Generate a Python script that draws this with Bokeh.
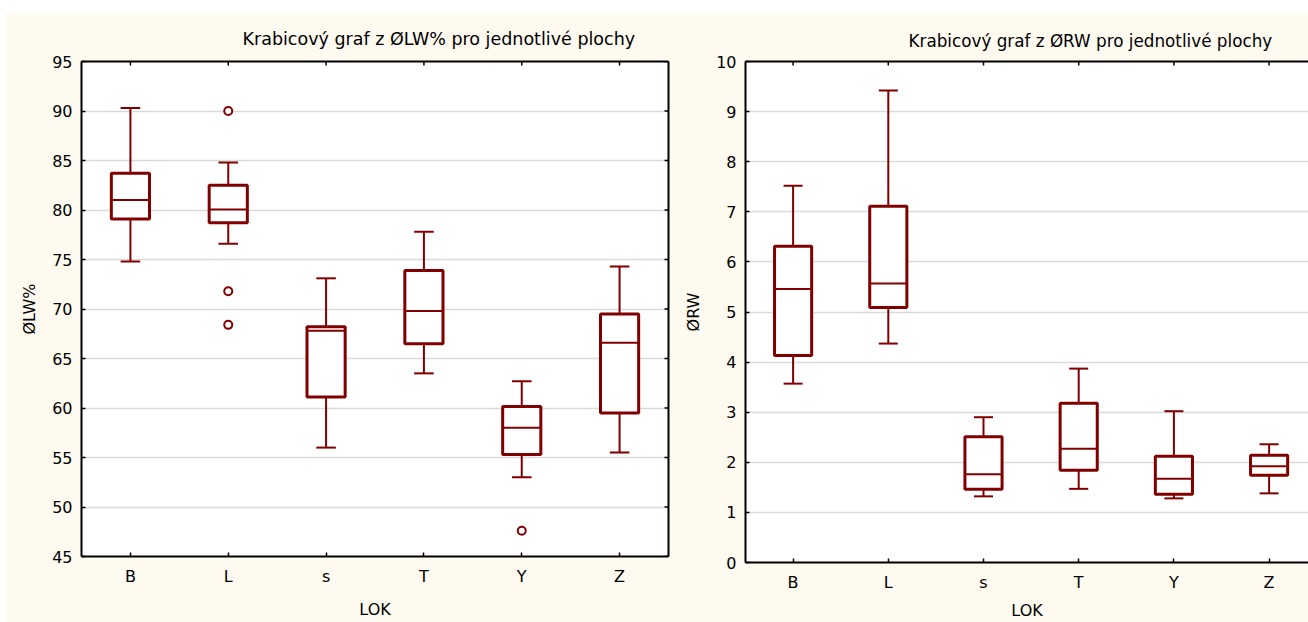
import math
from bokeh.plotting import figure
from bokeh.layouts import row, column
from bokeh.models import Range1d, LinearAxis, FixedTicker, Spacer
from bokeh.embed import file_html
from bokeh.resources import INLINE

categories = ["B", "L", "s", "T", "Y", "Z"]

# Left panel: ØLW%
lw_whisk_low = [74.8, 76.6, 56.0, 63.5, 53.0, 55.5]
lw_q1 = [79.1, 78.7, 61.1, 66.5, 55.3, 59.5]
lw_median = [81.0, 80.05, 67.8, 69.8, 58.0, 66.6]
lw_q3 = [83.7, 82.5, 68.2, 73.9, 60.15, 69.5]
lw_whisk_high = [90.3, 84.8, 73.1, 77.8, 62.7, 74.3]
lw_outlier_cat = ["L", "L", "L", "Y"]
lw_outlier_val = [90.0, 71.8, 68.4, 47.6]
lw_ticks = [45, 50, 55, 60, 65, 70, 75, 80, 85, 90, 95]

# Right panel: ØRW
rw_whisk_low = [3.57, 4.37, 1.32, 1.47, 1.28, 1.38]
rw_q1 = [4.13, 5.09, 1.46, 1.84, 1.36, 1.74]
rw_median = [5.46, 5.57, 1.76, 2.27, 1.67, 1.92]
rw_q3 = [6.31, 7.11, 2.51, 3.18, 2.12, 2.14]
rw_whisk_high = [7.52, 9.42, 2.90, 3.87, 3.02, 2.36]
rw_outlier_cat = []
rw_outlier_val = []
rw_ticks = [0, 1, 2, 3, 4, 5, 6, 7, 8, 9, 10]

title_left = "Krabicový graf z ØLW% pro jednotlivé plochy"
title_right = "Krabicový graf z ØRW pro jednotlivé plochy"
ylabel_left = "ØLW%"
ylabel_right = "ØRW"
xlabel = "LOK"

CREAM = "#FEFAF0"
RED = "#800000"
FONT = "DejaVu Sans"

xpos = [i + 0.5 for i in range(len(categories))]
cat_pos = dict(zip(categories, xpos))


def style_axis(ax):
    ax.axis_line_width = 2
    ax.axis_line_color = "black"
    ax.major_tick_in = 4
    ax.major_tick_out = 0
    ax.major_tick_line_color = "black"
    ax.major_tick_line_width = 1.5
    ax.minor_tick_line_color = None
    ax.major_label_text_font = FONT
    ax.major_label_text_font_size = "16px"
    ax.major_label_text_color = "black"
    ax.axis_label_text_font = FONT
    ax.axis_label_text_font_size = "16px"
    ax.axis_label_text_font_style = "normal"
    ax.axis_label_text_color = "black"


def make_panel(width, height, xend, yr, yticks, title, ylabel,
               wl, q1, med, q3, wh, ocat, oval,
               bl, br, bt, bb, title_offset, title_standoff, title_size,
               add_right, xlab_standoff):
    p = figure(width=width, height=height, x_range=Range1d(0, xend),
               y_range=Range1d(*yr), output_backend="svg",
               toolbar_location=None, min_border_left=bl, min_border_right=br,
               min_border_top=bt, min_border_bottom=bb,
               background_fill_color="white", border_fill_color=CREAM,
               outline_line_color=None, title=title)
    p.title.text_font = FONT
    p.title.text_font_size = title_size
    p.title.text_font_style = "normal"
    p.title.text_color = "black"
    p.title.align = "left"
    p.title.offset = title_offset
    p.title.standoff = title_standoff

    p.xgrid.grid_line_color = None
    p.ygrid.grid_line_color = "#dadada"
    p.ygrid.grid_line_width = 1.5
    p.ygrid.ticker = FixedTicker(ticks=yticks)

    p.xaxis.ticker = FixedTicker(ticks=xpos)
    p.xaxis.major_label_overrides = {x: c for x, c in zip(xpos, categories)}
    p.xaxis.axis_label = xlabel
    p.yaxis.ticker = FixedTicker(ticks=yticks)
    p.yaxis.axis_label = ylabel
    style_axis(p.xaxis[0])
    style_axis(p.yaxis[0])
    p.xaxis.major_label_standoff = 10
    p.xaxis.axis_label_standoff = xlab_standoff
    p.yaxis.major_label_standoff = 9
    p.yaxis.axis_label_standoff = 10

    # top border line (no labels) and inward tick marks
    top = LinearAxis(ticker=FixedTicker(ticks=[]))
    style_axis(top)
    p.add_layout(top, "above")
    p.scatter(x=xpos, y=[yr[1]] * len(xpos), marker="dash", size=8,
              angle=math.pi / 2, line_color="black", line_width=1.5)
    if add_right:
        right = LinearAxis(ticker=FixedTicker(ticks=[]))
        style_axis(right)
        p.add_layout(right, "right")
        p.scatter(x=[xend] * len(yticks), y=yticks, marker="dash", size=8,
                  line_color="black", line_width=1.5)

    box_w = 0.39
    cap_w = 0.2
    x0c = [x - cap_w / 2 for x in xpos]
    x1c = [x + cap_w / 2 for x in xpos]
    # whiskers
    p.segment(x0=xpos, y0=q3, x1=xpos, y1=wh, line_color=RED, line_width=2)
    p.segment(x0=xpos, y0=q1, x1=xpos, y1=wl, line_color=RED, line_width=2)
    p.segment(x0=x0c, y0=wh, x1=x1c, y1=wh, line_color=RED, line_width=2)
    p.segment(x0=x0c, y0=wl, x1=x1c, y1=wl, line_color=RED, line_width=2)
    # boxes
    p.vbar(x=xpos, width=box_w, bottom=q1, top=q3, fill_color="white",
           line_color=RED, line_width=3)
    # medians
    p.segment(x0=[x - box_w / 2 for x in xpos], y0=med,
              x1=[x + box_w / 2 for x in xpos], y1=med,
              line_color=RED, line_width=2)
    # outliers
    if ocat:
        p.scatter(x=[cat_pos[c] for c in ocat], y=oval, marker="circle",
                  size=8, fill_color="white", line_color=RED, line_width=2)
    return p


H = 609
left = make_panel(674, H, 6, (45, 95), lw_ticks, title_left, ylabel_left,
                  lw_whisk_low, lw_q1, lw_median, lw_q3, lw_whisk_high,
                  lw_outlier_cat, lw_outlier_val,
                  bl=75, br=12, bt=48, bb=66, title_offset=161,
                  title_standoff=25, title_size="17.5px",
                  add_right=True, xlab_standoff=11)

right_frame_w = 628 - 65
right = make_panel(628, H, right_frame_w / 95.2, (0, 10), rw_ticks, title_right,
                   ylabel_right,
                   rw_whisk_low, rw_q1, rw_median, rw_q3, rw_whisk_high,
                   rw_outlier_cat, rw_outlier_val,
                   bl=65, br=0, bt=48, bb=60, title_offset=163,
                   title_standoff=21, title_size="16.8px",
                   add_right=False, xlab_standoff=6)

panels = row(column(left, spacing=0), column(right, spacing=0), spacing=0,
             styles={"background-color": CREAM})
layout = column(Spacer(height=13, width=1308),
                row(Spacer(width=6, height=H), panels, spacing=0),
                spacing=0)

open("out.html", "w").write(file_html(layout, INLINE))
